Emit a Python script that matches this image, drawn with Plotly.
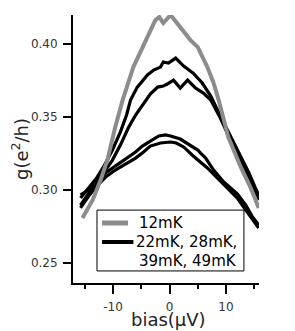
import plotly.graph_objects as go

# Data
x_12 = [-15.4, -13.6, -12.2, -11.0, -9.6, -8.3, -6.4, -3.9, -2.5, -1.8, -1.1, 0.2, 1.9, 3.7, 5.0, 5.5, 6.7, 7.8, 8.7, 10.4, 12.6, 14.3, 15.8]
g_12 = [0.2808, 0.2932, 0.3068, 0.3205, 0.3432, 0.3616, 0.3842, 0.4048, 0.4164, 0.4185, 0.4144, 0.4199, 0.4116, 0.4027, 0.3979, 0.3938, 0.3842, 0.3733, 0.3616, 0.3363, 0.3158, 0.3021, 0.2877]

x_a = [-15.75, -14.3, -12.9, -11.5, -10.1, -8.7, -7.6, -6.9, -5.7, -3.9, -2.8, -1.6, -1.1, -0.2, 1.1, 2.5, 4.2, 5.8, 7.3, 9.0, 10.8, 12.6, 14.0, 15.2, 15.9]
g_a = [0.2945, 0.3014, 0.3082, 0.3171, 0.3274, 0.3397, 0.3514, 0.3616, 0.3705, 0.3788, 0.3822, 0.3842, 0.3877, 0.3870, 0.3904, 0.3849, 0.3801, 0.3733, 0.3644, 0.3507, 0.3370, 0.3240, 0.3123, 0.3014, 0.2959]

x_b = [-15.75, -14.3, -12.9, -11.5, -10.1, -8.7, -7.3, -6.0, -5.1, -4.2, -3.4, -2.1, -1.1, -0.4, 0.7, 1.9, 3.2, 4.6, 6.0, 7.3, 9.0, 10.8, 12.6, 14.3, 15.9]
g_b = [0.2897, 0.2979, 0.3048, 0.3123, 0.3205, 0.3308, 0.3425, 0.3514, 0.3562, 0.3616, 0.3658, 0.3705, 0.3712, 0.3726, 0.3753, 0.3699, 0.3753, 0.3699, 0.3664, 0.3616, 0.3493, 0.3342, 0.3205, 0.3068, 0.2932]

x_c = [-15.75, -14.3, -12.9, -11.3, -9.6, -7.8, -6.0, -4.8, -3.4, -1.9, -0.7, 0.2, 1.9, 3.7, 5.0, 5.5, 6.4, 7.8, 9.6, 12.0, 13.5, 14.7, 15.8]
g_c = [0.2966, 0.3000, 0.3062, 0.3116, 0.3164, 0.3212, 0.3260, 0.3301, 0.3336, 0.3370, 0.3377, 0.3370, 0.3349, 0.3308, 0.3274, 0.3253, 0.3219, 0.3137, 0.3055, 0.2973, 0.2897, 0.2815, 0.2760]

x_d = [-15.75, -14.3, -12.9, -11.3, -9.6, -7.8, -6.0, -4.6, -3.4, -1.6, 0.2, 1.2, 2.5, 4.2, 5.5, 6.7, 8.1, 9.9, 12.0, 13.5, 14.7, 15.8]
g_d = [0.2877, 0.2959, 0.3027, 0.3089, 0.3137, 0.3178, 0.3219, 0.3260, 0.3301, 0.3322, 0.3329, 0.3322, 0.3295, 0.3233, 0.3192, 0.3151, 0.3096, 0.3027, 0.2945, 0.2863, 0.2794, 0.2740]

label_12 = "12mK"
label_hot_1 = "22mK, 28mK,"
label_hot_2 = "39mK, 49mK"
y_ticks = [0.25, 0.30, 0.35, 0.40]
y_ticktext = ["0.25", "0.30", "0.35", "0.40"]
x_ticks = [-10, 0, 10]
x_ticktext = ["-10", "0", "10"]
x_title = "bias(μV)"
y_title = "g(e<sup>2</sup>/h)"

FONT = "DejaVu Sans"
GRAY = "#8c8c8c"

fig = go.Figure()
black_sets = [(x_a, g_a), (x_b, g_b), (x_c, g_c), (x_d, g_d)]
for xs, ys in black_sets:
    fig.add_trace(go.Scatter(
        x=xs, y=ys, mode="lines",
        line=dict(color="black", width=3.2),
        name=label_hot_1 + " " + label_hot_2, showlegend=False,
    ))
fig.add_trace(go.Scatter(
    x=x_12, y=g_12, mode="lines",
    line=dict(color=GRAY, width=4),
    name=label_12, showlegend=False,
))

# legend box drawn in paper coordinates (relative to the plot area)
legend_shapes = [
    dict(type="rect", xref="paper", yref="paper", x0=0.129, x1=0.919, y0=0.045, y1=0.272,
         line=dict(color="black", width=1), fillcolor="white", layer="above"),
    dict(type="line", xref="paper", yref="paper", x0=0.156, x1=0.296, y0=0.224, y1=0.224,
         line=dict(color=GRAY, width=5), layer="above"),
    dict(type="line", xref="paper", yref="paper", x0=0.156, x1=0.325, y0=0.153, y1=0.153,
         line=dict(color="black", width=4), layer="above"),
]
legend_texts = [
    dict(text=label_12, x=0.344, y=0.224),
    dict(text=label_hot_1, x=0.330, y=0.153),
    dict(text=label_hot_2, x=0.344, y=0.082),
]
annotations = [
    dict(text=t["text"], xref="paper", yref="paper", x=t["x"], y=t["y"],
         xanchor="left", yanchor="middle", showarrow=False,
         font=dict(family=FONT, size=15, color="black"))
    for t in legend_texts
]
annotations += [
    dict(text=x_title, xref="paper", yref="paper", x=0.516, y=-0.138,
         xanchor="center", yanchor="middle", showarrow=False,
         font=dict(family=FONT, size=18, color="#222")),
    dict(text=y_title, xref="paper", yref="paper", x=-0.285, y=0.5,
         xanchor="center", yanchor="middle", showarrow=False, textangle=-90,
         font=dict(family=FONT, size=18, color="#222")),
]

# page body has an 8px margin: figure is 287x323 so it fits the 295x331 window
fig.update_layout(
    width=287, height=323,
    margin=dict(l=65, r=36, t=7, b=48),
    paper_bgcolor="white", plot_bgcolor="white",
    font=dict(family=FONT, color="black"),
    showlegend=False,
    shapes=legend_shapes,
    annotations=annotations,
    xaxis=dict(
        range=[-17.08, 15.84], showgrid=False, zeroline=False, automargin=False,
        showline=True, linecolor="black", linewidth=2,
        ticks="outside", ticklen=9, tickwidth=2, tickcolor="black",
        tickvals=x_ticks, ticktext=x_ticktext, ticklabelstandoff=3,
        tickfont=dict(family=FONT, size=12, color="#333"),
        minor=dict(dtick=5, tick0=0, ticks="outside", ticklen=4, tickwidth=2, tickcolor="black"),
    ),
    yaxis=dict(
        range=[0.2363, 0.4199], showgrid=False, zeroline=False, automargin=False,
        showline=True, linecolor="black", linewidth=2,
        ticks="outside", ticklen=8, tickwidth=2, tickcolor="black",
        tickvals=y_ticks, ticktext=y_ticktext, ticklabelstandoff=3,
        tickfont=dict(family=FONT, size=12, color="#333"),
    ),
)

fig.write_html("out.html")
